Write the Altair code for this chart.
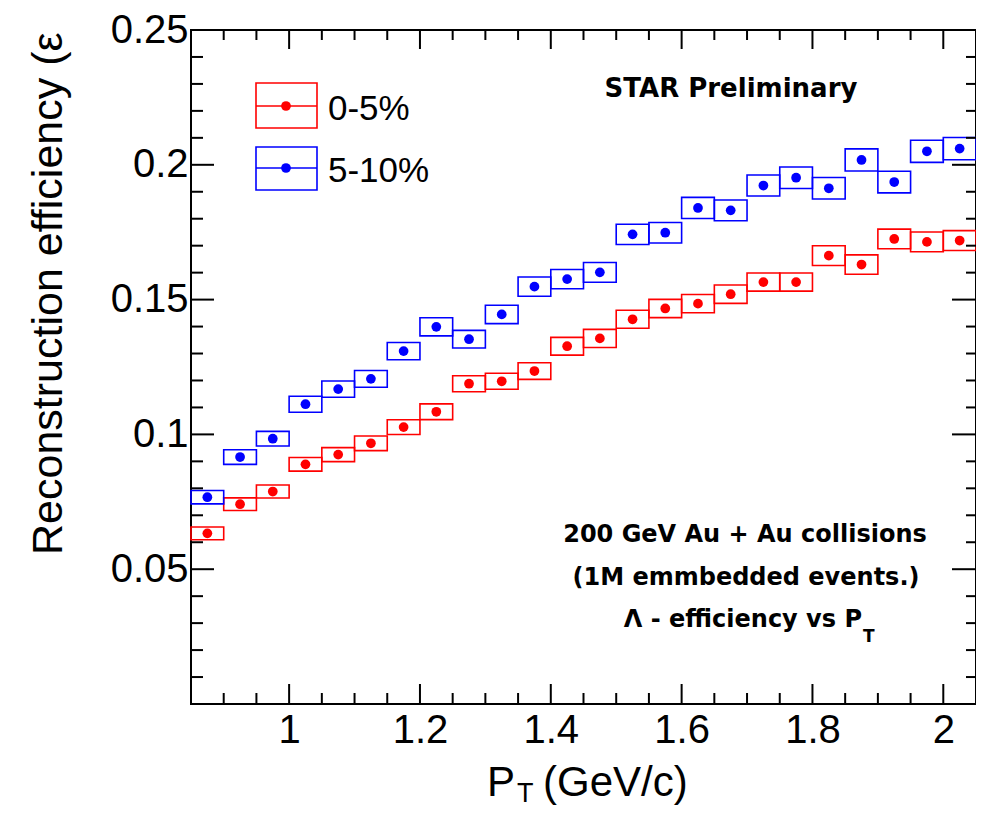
import altair as alt
import pandas as pd

# ---------------- data ----------------
series_names = ["0-5%", "5-10%"]
series_colors = ["#ff0000", "#0000ff"]

pt_centers = [0.875, 0.925, 0.975, 1.025, 1.075, 1.125, 1.175, 1.225, 1.275, 1.325,
              1.375, 1.425, 1.475, 1.525, 1.575, 1.625, 1.675, 1.725, 1.775, 1.825,
              1.875, 1.925, 1.975, 2.025]

eff_0_5 = [0.0633, 0.0741, 0.0788, 0.0889, 0.0925, 0.0967, 0.1027, 0.1084, 0.1188, 0.1197,
           0.1235, 0.1327, 0.1356, 0.1427, 0.1467, 0.1485, 0.1520, 0.1565, 0.1565, 0.1663,
           0.1630, 0.1725, 0.1714, 0.1719]
sys_0_5 = [0.00235, 0.00235, 0.00241, 0.00254, 0.0026, 0.0027, 0.00275, 0.00291, 0.00297, 0.00297,
           0.0031, 0.00328, 0.00334, 0.00334, 0.0034, 0.0034, 0.0034, 0.00334, 0.00334, 0.00365,
           0.0036, 0.00365, 0.00365, 0.0037]

eff_5_10 = [0.0767, 0.0916, 0.0984, 0.1112, 0.1168, 0.1206, 0.1309, 0.1399, 0.1353, 0.1445,
            0.1548, 0.1576, 0.1601, 0.1742, 0.1748, 0.1840, 0.1831, 0.1923, 0.1952, 0.1913,
            0.2018, 0.1936, 0.2050, 0.2060]
sys_5_10 = [0.00247, 0.00272, 0.00272, 0.00297, 0.00303, 0.0031, 0.00321, 0.00334, 0.00328, 0.0034,
            0.00358, 0.00358, 0.00365, 0.00377, 0.0038, 0.0039, 0.00383, 0.0039, 0.004, 0.004,
            0.0041, 0.004, 0.0041, 0.0041]

x_major = [1.0, 1.2, 1.4, 1.6, 1.8, 2.0]
x_minor = [0.9, 0.95, 1.05, 1.1, 1.15, 1.25, 1.3, 1.35, 1.45, 1.5, 1.55,
           1.65, 1.7, 1.75, 1.85, 1.9, 1.95]
y_major = [0.05, 0.1, 0.15, 0.2, 0.25]
y_minor = [0.01, 0.02, 0.03, 0.04, 0.06, 0.07, 0.08, 0.09, 0.11, 0.12, 0.13, 0.14,
           0.16, 0.17, 0.18, 0.19, 0.21, 0.22, 0.23, 0.24]

x_title_main = "P"
x_title_sub = "T"
x_title_rest = "(GeV/c)"
y_title = "Reconstruction efficiency (\u03b5"
star_label = "STAR Preliminary"
info_lines = ["200 GeV Au + Au collisions", "(1M emmbedded events.)"]
info_last = "\u039b - efficiency vs P"
info_last_sub = "T"

# ---------------- table ----------------
rows = []
for name, vals, errs in [(series_names[0], eff_0_5, sys_0_5),
                         (series_names[1], eff_5_10, sys_5_10)]:
    for c, v, e in zip(pt_centers, vals, errs):
        rows.append({"series": name, "pt": c, "eff": v, "err": e})
df = pd.DataFrame(rows)

W, H = 785, 674
FONT = "Liberation Sans"
BOLD_FONT = "DejaVu Sans"

xsc = alt.Scale(domain=[0.85, 2.05], nice=False, zero=False)
ysc = alt.Scale(domain=[0, 0.25], nice=False, zero=False)
csc = alt.Scale(domain=series_names, range=series_colors)

xaxis = alt.Axis(values=x_major, format="~g", labelFont=FONT, labelFontSize=40,
                 labelColor="black", ticks=False, domain=False, grid=False,
                 labelPadding=6, title=None, labelFlush=False, labelOverlap=False)
yaxis = alt.Axis(values=y_major, format="~g", labelFont=FONT, labelFontSize=40,
                 labelColor="black", ticks=False, domain=False, grid=False,
                 labelPadding=3, title=None, labelFlush=False, labelOverlap=False)


def X(f):
    return alt.X(f, type="quantitative", scale=xsc, axis=xaxis)


def Y(f):
    return alt.Y(f, type="quantitative", scale=ysc, axis=yaxis)


boxes = alt.Chart(df).transform_calculate(
    lo="datum.pt - 0.025", hi="datum.pt + 0.025",
    ylo="datum.eff - datum.err", yhi="datum.eff + datum.err"
).mark_rect(fillOpacity=0, strokeWidth=1.6).encode(
    x=X("lo"), x2="hi", y=Y("ylo"), y2="yhi",
    stroke=alt.Stroke("series:N", scale=csc, legend=None),
)

points = alt.Chart(df).mark_circle(size=95, opacity=1).encode(
    x=X("pt"), y=Y("eff"),
    color=alt.Color("series:N", scale=csc, legend=None),
)

layers = [boxes, points]

# ROOT-like inward ticks on all four sides
xmaj = pd.DataFrame({"v": x_major})
xmin = pd.DataFrame({"v": x_minor})
ymaj = pd.DataFrame({"v": y_major})
ymin = pd.DataFrame({"v": y_minor})
for d, blen, tlen in [(xmaj, 20, 19), (xmin, 11, 10)]:
    layers.append(alt.Chart(d).mark_rule(color="black", strokeWidth=2).encode(
        x=X("v"), y=alt.value(H), y2=alt.value(H - blen)))
    layers.append(alt.Chart(d).mark_rule(color="black", strokeWidth=2).encode(
        x=X("v"), y=alt.value(0), y2=alt.value(tlen)))
for d, llen, rlen in [(ymaj, 23, 24), (ymin, 12, 10)]:
    layers.append(alt.Chart(d).mark_rule(color="black", strokeWidth=2).encode(
        y=Y("v"), x=alt.value(0), x2=alt.value(llen)))
    layers.append(alt.Chart(d).mark_rule(color="black", strokeWidth=2).encode(
        y=Y("v"), x=alt.value(W), x2=alt.value(W - rlen)))


def txt(s, x, y, **kw):
    return alt.Chart(pd.DataFrame({"t": [s]})).mark_text(**kw).encode(
        x=alt.value(x), y=alt.value(y), text="t:N")


# axis titles
layers.append(txt(x_title_main, 296, 766, font=FONT, fontSize=42, align="left",
                  baseline="alphabetic", color="black"))
layers.append(txt(x_title_sub, 326, 772, font=FONT, fontSize=27, align="left",
                  baseline="alphabetic", color="black"))
layers.append(txt(x_title_rest, 352, 766, font=FONT, fontSize=42, align="left",
                  baseline="alphabetic", color="black"))
layers.append(txt(y_title, -129, 525, font=FONT, fontSize=43, align="left",
                  baseline="alphabetic", angle=270, color="black"))

# annotations
layers.append(txt(star_label, 540, 67, font=BOLD_FONT, fontSize=26, fontWeight="bold",
                  align="center", baseline="alphabetic", color="black"))
layers.append(txt(info_lines[0], 554, 512, font=BOLD_FONT, fontSize=24, fontWeight="bold",
                  align="center", baseline="alphabetic", color="black"))
layers.append(txt(info_lines[1], 555, 555, font=BOLD_FONT, fontSize=24, fontWeight="bold",
                  align="center", baseline="alphabetic", color="black"))
layers.append(txt(info_last, 671, 597, font=BOLD_FONT, fontSize=24, fontWeight="bold",
                  align="right", baseline="alphabetic", color="black"))
layers.append(txt(info_last_sub, 672, 612, font=BOLD_FONT, fontSize=17, fontWeight="bold",
                  align="left", baseline="alphabetic", color="black"))

# legend (ROOT style: box + line + marker)
leg_rows = [(53, 98, 76, 90), (117, 160, 138, 152)]
for name, col, (y0, y1, ym, yb) in zip(series_names, series_colors, leg_rows):
    one = pd.DataFrame({"s": [name]})
    layers.append(alt.Chart(one).mark_rect(fillOpacity=0, stroke=col, strokeWidth=1.6).encode(
        x=alt.value(65), x2=alt.value(126), y=alt.value(y0), y2=alt.value(y1)))
    layers.append(alt.Chart(one).mark_rule(color=col, strokeWidth=1.6).encode(
        x=alt.value(65), x2=alt.value(126), y=alt.value(ym)))
    layers.append(alt.Chart(one).mark_circle(size=95, opacity=1, color=col).encode(
        x=alt.value(95), y=alt.value(ym)))
    layers.append(txt(name, 137, yb, font=FONT, fontSize=35, align="left",
                      baseline="alphabetic", color="black"))

chart = alt.layer(*layers).properties(
    width=W, height=H,
    autosize=alt.AutoSizeParams(type="none"),
    padding={"left": 183, "top": 22, "right": 0, "bottom": 104},
).configure_view(stroke="black", strokeWidth=2)

chart.save("out.html", embed_options={"renderer": "svg", "actions": False})
